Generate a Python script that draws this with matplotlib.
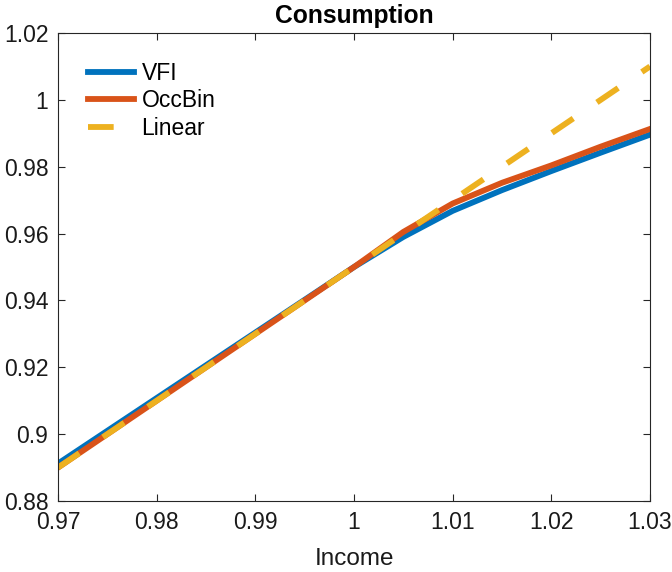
import matplotlib
matplotlib.use("Agg")
import matplotlib.pyplot as plt

plt.rcParams['font.family'] = ['Liberation Sans', 'DejaVu Sans']

# income grid
income = [0.970, 0.975, 0.980, 0.985, 0.990, 0.995, 1.000,
          1.005, 1.010, 1.015, 1.020, 1.025, 1.030]

# consumption policies
c_vfi = [0.8912, 0.9010, 0.9108, 0.9206, 0.9304, 0.9402, 0.9500,
         0.9590, 0.9668, 0.9730, 0.9787, 0.9842, 0.9896]
c_occbin = [0.8900, 0.9000, 0.9100, 0.9200, 0.9300, 0.9400, 0.9500,
            0.9605, 0.9690, 0.9752, 0.9804, 0.9860, 0.9913]
c_linear = [0.890, 0.900, 0.910, 0.920, 0.930, 0.940, 0.950,
            0.960, 0.970, 0.980, 0.990, 1.000, 1.010]

xticks = [0.97, 0.98, 0.99, 1.0, 1.01, 1.02, 1.03]
xticklabels = ['0.97', '0.98', '0.99', '1', '1.01', '1.02', '1.03']
yticks = [0.88, 0.90, 0.92, 0.94, 0.96, 0.98, 1.00, 1.02]
yticklabels = ['0.88', '0.9', '0.92', '0.94', '0.96', '0.98', '1', '1.02']

fig = plt.figure(figsize=(6.72, 5.72), dpi=100)
ax = fig.add_axes([0.0863, 0.1241, 0.8810, 0.8182])

ax.plot(income, c_vfi, color='#0072BD', lw=4.2, label='VFI')
ax.plot(income, c_occbin, color='#D95319', lw=4.2, label='OccBin')
ax.plot(income, c_linear, color='#EDB120', lw=4.2, dashes=(4.4, 4.9), label='Linear')

ax.set_xlim(0.97, 1.03)
ax.set_ylim(0.88, 1.02)
ax.set_xticks(xticks)
ax.set_xticklabels(xticklabels)
ax.set_yticks(yticks)
ax.set_yticklabels(yticklabels)

dark = '#262626'
for s in ax.spines.values():
    s.set_color(dark)
    s.set_linewidth(0.8)
ax.tick_params(direction='in', top=True, right=True, length=5, width=0.8,
               colors=dark, labelsize=16.5, pad=7)
for lbl in ax.get_xticklabels() + ax.get_yticklabels():
    lbl.set_color('#1a1a1a')

ax.set_title('Consumption', fontsize=17.7, fontweight='bold', pad=7.5)
ax.set_xlabel('Income', fontsize=17.5, color='#1a1a1a', labelpad=10)

ax.legend(loc='upper left', frameon=False, fontsize=16.5, handlelength=1.98,
          handletextpad=0.33, labelspacing=0.215, borderpad=0, borderaxespad=0,
          bbox_to_anchor=(0.0515, 0.939))

fig.savefig('out.png', dpi=100)
